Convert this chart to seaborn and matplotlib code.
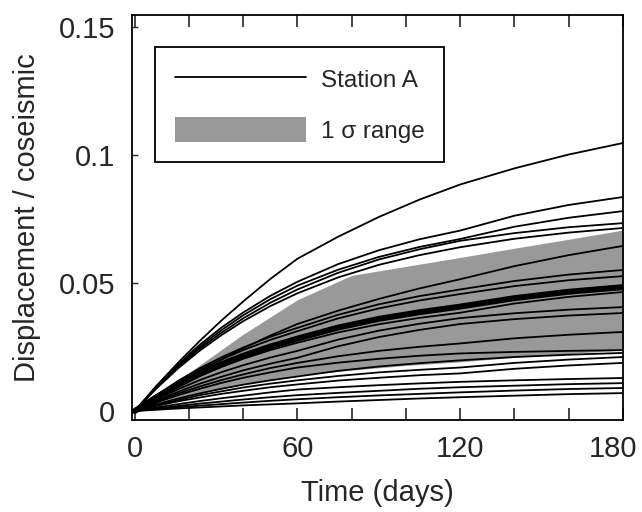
import numpy as np
import pandas as pd
import matplotlib
matplotlib.use("Agg")
import matplotlib.pyplot as plt
import matplotlib.transforms as mtransforms
from matplotlib.lines import Line2D
from matplotlib.patches import Patch
import seaborn as sns

# ---- data ----
days = [0, 8, 16, 24, 32, 40, 50, 60, 75, 90, 105, 120, 140, 160, 180]

station_curves = {
    "c1":  [0, .0098, .0189, .0274, .0354, .0428, .0516, .0595, .0681, .0758, .0826, .0885, .0948, .1002, .1047],
    "c2":  [0, .0097, .0183, .0259, .0326, .0385, .0450, .0505, .0574, .0628, .0671, .0705, .0763, .0805, .0836],
    "c3":  [0, .0094, .0177, .0251, .0316, .0374, .0437, .0490, .0552, .0602, .0641, .0672, .0720, .0755, .0781],
    "c4":  [0, .0091, .0172, .0244, .0306, .0362, .0423, .0475, .0540, .0592, .0632, .0665, .0695, .0718, .0734],
    "c4b": [0, .0088, .0167, .0236, .0297, .0351, .0410, .0460, .0522, .0571, .0609, .0640, .0673, .0697, .0715],
    "c5":  [0, .0056, .0108, .0157, .0202, .0245, .0295, .0340, .0392, .0438, .0479, .0515, .0566, .0609, .0645],
    "L1":  [0, .0062, .0118, .0167, .0210, .0248, .0290, .0325, .0376, .0417, .0449, .0475, .0508, .0533, .0551],
    "L2":  [0, .0060, .0113, .0160, .0201, .0238, .0278, .0312, .0362, .0401, .0432, .0457, .0488, .0511, .0527],
    "L3":  [0, .0051, .0097, .0137, .0172, .0204, .0238, .0267, .0307, .0339, .0364, .0384, .0420, .0446, .0465],
    "L4":  [0, .0045, .0085, .0121, .0152, .0179, .0209, .0235, .0279, .0314, .0341, .0363, .0382, .0396, .0406],
    "L5":  [0, .0040, .0075, .0107, .0134, .0159, .0185, .0208, .0253, .0289, .0317, .0340, .0359, .0373, .0383],
    "L6":  [0, .0036, .0068, .0096, .0121, .0143, .0168, .0188, .0214, .0235, .0251, .0264, .0284, .0298, .0309],
    "L7":  [0, .0033, .0062, .0087, .0110, .0130, .0151, .0170, .0189, .0204, .0216, .0225, .0231, .0235, .0238],
    "L8":  [0, .0026, .0049, .0069, .0087, .0103, .0120, .0135, .0157, .0174, .0187, .0198, .0211, .0220, .0227],
    "L9":  [0, .0023, .0043, .0062, .0077, .0092, .0107, .0120, .0137, .0151, .0161, .0170, .0188, .0201, .0211],
    "L10": [0, .0020, .0038, .0053, .0067, .0079, .0093, .0104, .0119, .0130, .0140, .0147, .0165, .0178, .0188],
    "L11": [0, .0014, .0027, .0039, .0050, .0060, .0073, .0084, .0093, .0101, .0108, .0114, .0120, .0125, .0129],
    "L12": [0, .0010, .0020, .0029, .0037, .0045, .0054, .0062, .0071, .0079, .0087, .0093, .0099, .0105, .0109],
    "L13": [0, .0008, .0015, .0021, .0027, .0033, .0040, .0046, .0054, .0061, .0067, .0073, .0080, .0086, .0090],
    "L14": [0, .0005, .0010, .0014, .0018, .0022, .0026, .0030, .0037, .0043, .0049, .0054, .0060, .0066, .0070],
}

mean_curve = [0, .0054, .0102, .0145, .0183, .0216, .0252, .0283, .0326, .0360, .0386, .0408, .0441, .0466, .0484]

band_days = [0, 20, 40, 60, 80, 100, 120, 140, 160, 180]
band_upper = [0, 0.0150, 0.0300, 0.0435, 0.0530, 0.0565, 0.0600, 0.0636, 0.0671, 0.0707]
band_lower = [0, 0.0060, 0.0105, 0.0140, 0.0160, 0.0178, 0.0192, 0.0210, 0.0225, 0.0238]

x_ticks = [0, 20, 40, 60, 80, 100, 120, 140, 160, 180]
x_ticklabels = ["0", "", "", "60", "", "", "120", "", "", "180"]
y_ticks = [0, 0.05, 0.1, 0.15]
y_ticklabels = ["0", "0.05", "0.1", "0.15"]

# ---- style ----
sns.set_style("ticks")
plt.rcParams["font.family"] = ["Liberation Sans", "DejaVu Sans"]
plt.rcParams["axes.linewidth"] = 1.3

fig = plt.figure(figsize=(6.42, 5.12), dpi=100)
ax = fig.add_axes([0.2056, 0.1797, 0.7648, 0.7910])

# 1-sigma band
ax.fill_between(band_days, band_lower, band_upper, color="#999999",
                linewidth=0, zorder=1)

# station curves
rows = []
for name, vals in station_curves.items():
    for d, v in zip(days, vals):
        rows.append({"curve": name, "day": d, "value": v})
df = pd.DataFrame(rows)
sns.lineplot(data=df, x="day", y="value", units="curve", estimator=None,
             color="black", linewidth=1.3, ax=ax, zorder=2, legend=False)

mean_df = pd.DataFrame({"day": days, "value": mean_curve})
sns.lineplot(data=mean_df, x="day", y="value", color="black", linewidth=4.3,
             ax=ax, zorder=3, legend=False)

ax.set_xlim(-1, 180)
ax.set_ylim(-0.0035, 0.1547)

ax.set_xticks(x_ticks)
ax.set_xticklabels(x_ticklabels)
ax.set_yticks(y_ticks)
ax.set_yticklabels(y_ticklabels)

ax.tick_params(axis="x", which="both", direction="in", length=8.5, width=1.2,
               top=True, bottom=True, labelsize=21, pad=11)
ax.tick_params(axis="y", which="both", direction="in", length=4, width=1.0,
               left=True, right=False, labelsize=21, pad=12)

# nudge the last x label inward like the reference
lbl = ax.get_xticklabels()[-1]
lbl.set_transform(lbl.get_transform() +
                  mtransforms.ScaledTranslation(-7 / 72, 0, fig.dpi_scale_trans))

for s in ax.spines.values():
    s.set_visible(True)
    s.set_color("black")
    s.set_linewidth(1.3)

ax.set_xlabel("Time (days)", fontsize=21, labelpad=11)
ax.set_ylabel("Displacement / coseismic", fontsize=21, labelpad=13)

handles = [Line2D([0], [0], color="black", linewidth=1.3),
           Patch(facecolor="#999999", edgecolor="none")]
leg = ax.legend(handles, ["Station A", "1 \u03c3 range"], loc="upper left",
                bbox_to_anchor=(0.047, 0.921), borderaxespad=0,
                fontsize=17.5, frameon=True, fancybox=False, framealpha=1,
                handlelength=5.4, handleheight=1.25, handletextpad=0.62,
                labelspacing=1.0, borderpad=0.8)
leg.get_frame().set_edgecolor("black")
leg.get_frame().set_linewidth(1.3)

fig.savefig("out.png", dpi=100)
